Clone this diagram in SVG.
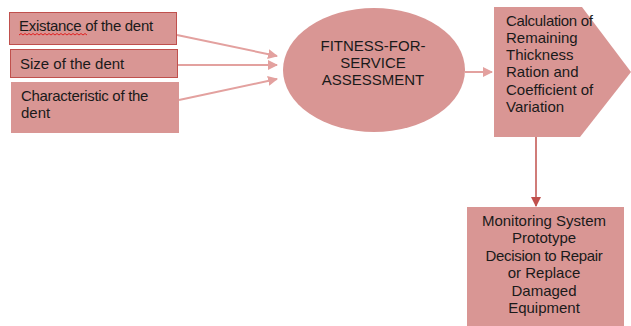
<svg xmlns="http://www.w3.org/2000/svg" width="631" height="326" viewBox="0 0 631 326">
<style>
.shape{fill:#d99694}
.red{stroke:#c0504d;stroke-width:1}
.t{font-family:"Liberation Sans",Arial,sans-serif;font-size:15px;fill:#1a1a1a}
.c{text-anchor:middle}
.lc{stroke:#e3a19f;stroke-width:2;fill:none}
</style>
<defs>
<marker id="ah" markerWidth="10" markerHeight="10" refX="9" refY="5" orient="auto" markerUnits="userSpaceOnUse">
<path d="M0,0 L10,5 L0,10 z" fill="#e3a19f"/>
</marker>
<marker id="ahd" markerWidth="10" markerHeight="10" refX="9" refY="5" orient="auto" markerUnits="userSpaceOnUse">
<path d="M0,0 L10,5 L0,10 z" fill="#c0504d"/>
</marker>
</defs>
<rect width="631" height="326" fill="#ffffff"/>
<g id="connectors">
<line class="lc" x1="177" y1="35" x2="277" y2="56" marker-end="url(#ah)"/>
<line class="lc" x1="178" y1="65" x2="277" y2="65" marker-end="url(#ah)"/>
<line class="lc" x1="179" y1="100" x2="277" y2="79" marker-end="url(#ah)"/>
<line class="lc" x1="465" y1="72" x2="492" y2="72" marker-end="url(#ah)"/>
<line x1="536" y1="137" x2="536" y2="206" stroke="#c0504d" stroke-width="1.5" marker-end="url(#ahd)"/>
</g>
<g id="n_existance">
<rect class="shape red" x="9.5" y="12.5" width="167" height="32"/>
<text class="t" x="19" y="31" letter-spacing="-0.3">Existance of the dent</text>
<path d="M19,35 l2,-1.5 l2,1.5 l2,-1.5 l2,1.5 l2,-1.5 l2,1.5 l2,-1.5 l2,1.5 l2,-1.5 l2,1.5 l2,-1.5 l2,1.5 l2,-1.5 l2,1.5 l2,-1.5 l2,1.5 l2,-1.5 l2,1.5 l2,-1.5 l2,1.5 l2,-1.5 l2,1.5 l2,-1.5 l2,1.5 l2,-1.5 l2,1.5 l2,-1.5 l2,1.5 l2,-1.5 l2,1.5 l2,-1.5 l2,1.5 l2,-1.5 l2,1.5" fill="none" stroke="#e02020" stroke-width="1"/>
</g>
<g id="n_size">
<rect class="shape red" x="10.5" y="49.5" width="167" height="28"/>
<text class="t" x="20" y="69">Size of the dent</text>
</g>
<g id="n_char">
<rect class="shape" x="11" y="82" width="168" height="51"/>
<text class="t" x="21" y="101" letter-spacing="-0.3">Characteristic of the</text>
<text class="t" x="21" y="118">dent</text>
</g>
<g id="n_ffs">
<ellipse class="shape" cx="374" cy="70" rx="91" ry="62"/>
<text class="t c" x="373" y="51">FITNESS-FOR-</text>
<text class="t c" x="373" y="68">SERVICE</text>
<text class="t c" x="373" y="85">ASSESSMENT</text>
</g>
<g id="n_calc">
<polygon class="shape" points="494,7 582,7 631,72 580,137 494,137"/>
<text class="t" x="506" y="26" letter-spacing="-0.3">Calculation of</text>
<text class="t" x="506" y="43">Remaining</text>
<text class="t" x="506" y="60">Thickness</text>
<text class="t" x="506" y="77">Ration and</text>
<text class="t" x="506" y="95">Coefficient of</text>
<text class="t" x="506" y="112">Variation</text>
</g>
<g id="n_monitor">
<rect class="shape" x="467" y="207" width="157" height="119"/>
<text class="t c" x="544" y="226">Monitoring System</text>
<text class="t c" x="544" y="243">Prototype</text>
<text class="t c" x="544" y="261" letter-spacing="-0.3">Decision to Repair</text>
<text class="t c" x="544" y="278">or Replace</text>
<text class="t c" x="544" y="296">Damaged</text>
<text class="t c" x="544" y="313">Equipment</text>
</g>
</svg>
